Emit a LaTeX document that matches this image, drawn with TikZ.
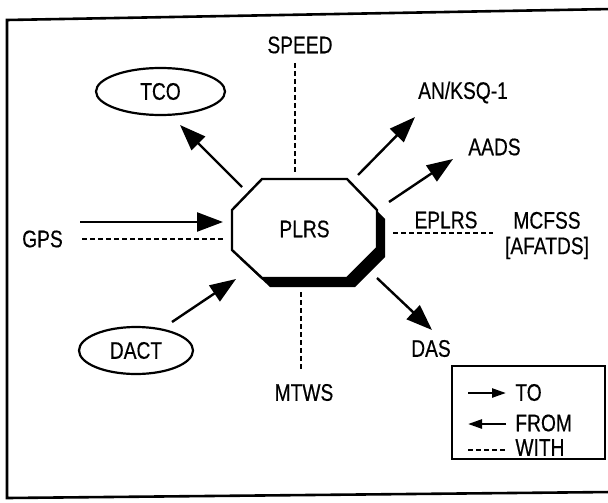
\documentclass[tikz,border=0pt]{standalone}
\usepackage{fontspec}
\setmainfont[FakeStretch=0.8,FakeBold=0.4]{Liberation Sans}
\usetikzlibrary{arrows.meta,shapes.geometric}
\tikzset{
  lbl/.style={inner sep=0pt, font=\fontsize{12}{12.75}\selectfont},
  oval/.style={lbl, ellipse, draw, line width=1.1pt, minimum height=23.5pt},
  toarrow/.style={line width=1.2pt, -{Triangle[length=13pt,width=9.5pt]}},
  withline/.style={line width=1.1pt, dash pattern=on 2.5pt off 1.5pt},
  keyarrow/.style={line width=1.2pt, -{Triangle[length=7pt,width=4.5pt]}},
}

\begin{document}
\begin{tikzpicture}[x=0.5pt,y=-0.5pt]
	%%%%% START %%%%%
	\useasboundingbox (0,0) rectangle (608,502);
	
	\draw[line width=1.3pt] (612,9) -- (7,20) -- (7,498) -- (612,492);
	
	% PLRS box and its shadow
	\fill[black] (270,188) -- (355,188) -- (385,219) -- (385,257) -- (355,287) -- (270,287) -- (240,259) -- (240,219) -- cycle;
	\draw[line width=1.2pt, fill=white] (262,179) -- (347,179) -- (377,210) -- (377,248) -- (347,278) -- (262,278) -- (232,250) -- (232,210) -- cycle;
	\node[lbl] (plrs) at (304.5,229) {PLRS};
	
	\node[oval, minimum width=64.5pt] (tco) at (160.5,91.5) {TCO};
	\node[oval, minimum width=57pt] (dact) at (136,350.5) {DACT};
	\node[lbl] (speed) at (300,45) {SPEED};
	\node[lbl] (anksq) at (463,92.5) {AN/KSQ-1};
	\node[lbl] (aads) at (494.5,147) {AADS};
	\node[lbl] (gps) at (42.5,239) {GPS};
	\node[lbl] (eplrs) at (446,220) {EPLRS};
	\node[lbl, align=center] (mcfss) at (547,235.5) {MCFSS\\{[}AFATDS{]}};
	\node[lbl] (mtws) at (304,392.5) {MTWS};
	\node[lbl] (das) at (431,348.5) {DAS};
	
	% ends of the connectors
	\coordinate (p-tco) at (242,187);
	\coordinate (tco-in) at (180,125);
	\coordinate (gps-out) at (80,222);
	\coordinate (p-gps) at (223,222);
	\coordinate (gps-with) at (82,239);
	\coordinate (p-gpsw) at (225,239);
	\coordinate (speed-with) at (295,63);
	\coordinate (p-speed) at (295,172);
	\coordinate (p-anksq) at (358,175);
	\coordinate (anksq-in) at (415,117);
	\coordinate (p-aads) at (389,202);
	\coordinate (aads-in) at (453,159);
	\coordinate (p-eplrs) at (393,233);
	\coordinate (eplrs-with) at (493,233);
	\coordinate (p-das) at (377,278);
	\coordinate (das-in) at (432,330);
	\coordinate (p-mtws) at (301,292);
	\coordinate (mtws-with) at (301,370);
	\coordinate (dact-out) at (172,322);
	\coordinate (p-dact) at (236,279);
	
	\draw[toarrow] (p-tco) -- (tco-in);
	\draw[toarrow] (gps-out) -- (p-gps);
	\draw[withline] (gps-with) -- (p-gpsw);
	\draw[withline] (speed-with) -- (p-speed);
	\draw[toarrow] (p-anksq) -- (anksq-in);
	\draw[toarrow] (p-aads) -- (aads-in);
	\draw[withline] (p-eplrs) -- (eplrs-with);
	\draw[toarrow] (p-das) -- (das-in);
	\draw[withline] (p-mtws) -- (mtws-with);
	\draw[toarrow] (dact-out) -- (p-dact);
	
	% key
	\draw[line width=1.1pt] (452,366) rectangle (605,459);
	\coordinate (kto-a) at (468,393);
	\coordinate (kto-b) at (506,393);
	\coordinate (kfrom-a) at (506,424);
	\coordinate (kfrom-b) at (468,424);
	\coordinate (kwith-a) at (468,450);
	\coordinate (kwith-b) at (506,450);
	\draw[keyarrow] (kto-a) -- (kto-b);
	\draw[keyarrow] (kfrom-a) -- (kfrom-b);
	\draw[withline] (kwith-a) -- (kwith-b);
	\node[lbl, anchor=west] (kto) at (515,392.5) {TO};
	\node[lbl, anchor=west] (kfrom) at (515,423) {FROM};
	\node[lbl, anchor=west] (kwith) at (515,447.5) {WITH};
	
	%%%%% END %%%%%
\end{tikzpicture}
\end{document}
